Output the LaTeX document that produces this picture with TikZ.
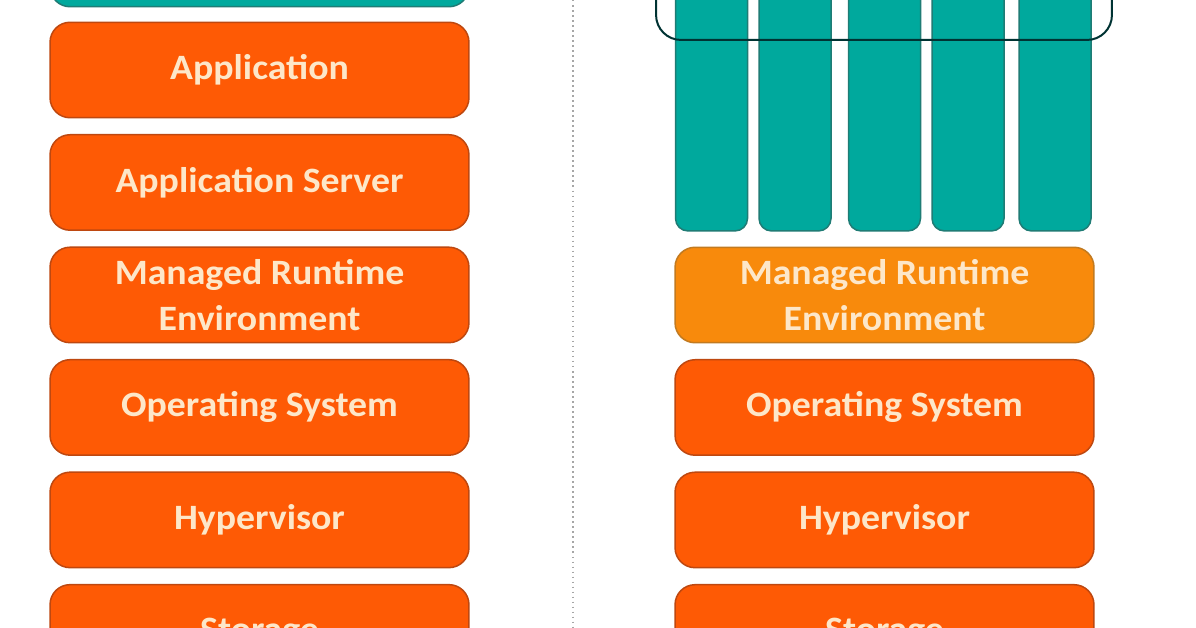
\documentclass[tikz,border=0pt]{standalone}
\usepackage{fontspec}
\setmainfont{Carlito}[FakeStretch=1.06]
\usetikzlibrary{positioning}
\definecolor{layerfill}{HTML}{FE5A05}
\definecolor{layerline}{HTML}{BE4810}
\definecolor{runfill}{HTML}{F88A0C}
\definecolor{runline}{HTML}{C27A20}
\definecolor{tealfill}{HTML}{00A99D}
\definecolor{tealline}{HTML}{1F7C75}
\definecolor{labeltext}{HTML}{FDE7C9}
\tikzstyle{layer} = [draw=layerline,fill=layerfill,line width=0.03cm,rounded corners=0.4cm,
  minimum width=8.38cm,minimum height=1.91cm,align=center,text=labeltext,
  font=\fontsize{20.3}{26}\selectfont\bfseries]

\begin{document}
\begin{tikzpicture}[
  x=0.02cm, y=-0.02cm,
  node distance=0.31cm,
  runtime/.style={layer,draw=runline,fill=runfill},
  topbox/.style={layer,draw=tealline,fill=tealfill},
  bar/.style={draw=tealline,fill=tealfill,line width=0.03cm,rounded corners=0.25cm,
    minimum width=1.44cm,minimum height=7.02cm},
  vmbox/.style={draw=black!60!teal,line width=0.04cm,rounded corners=0.5cm,
    minimum width=9.12cm,minimum height=4.8cm}
]
\useasboundingbox (0,0) rectangle (1196,628);
\clip (0,0) rectangle (1196,628);
\fill[white] (0,0) rectangle (1196,628);

% left stack
\node[topbox] (leftTop) at (259.5,-41) {};
\node[layer] (app) at (259.5,70) {Application};
\node[layer, below=of app] (appServer) {Application Server};
\node[layer, below=of appServer] (runtimeL) {Managed Runtime\\Environment};
\node[layer, below=of runtimeL] (osL) {Operating System};
\node[layer, below=of osL] (hyperL) {Hypervisor};
\node[layer, below=of hyperL] (storageL) {Storage};

% divider
\draw[gray!70, dotted, line width=0.03cm] (573,0) -- (573,628);

% right stack
\foreach \x/\n in {711.5/1, 795/2, 884.5/3, 968/4, 1055/5}
  \node[bar] (bar\n) at (\x,55.5) {};
\node[vmbox] (vms) at (884,-80) {};
\node[runtime] (runtimeR) at (884.5,295) {Managed Runtime\\Environment};
\node[layer, below=of runtimeR] (osR) {Operating System};
\node[layer, below=of osR] (hyperR) {Hypervisor};
\node[layer, below=of hyperR] (storageR) {Storage};
\end{tikzpicture}
\end{document}
